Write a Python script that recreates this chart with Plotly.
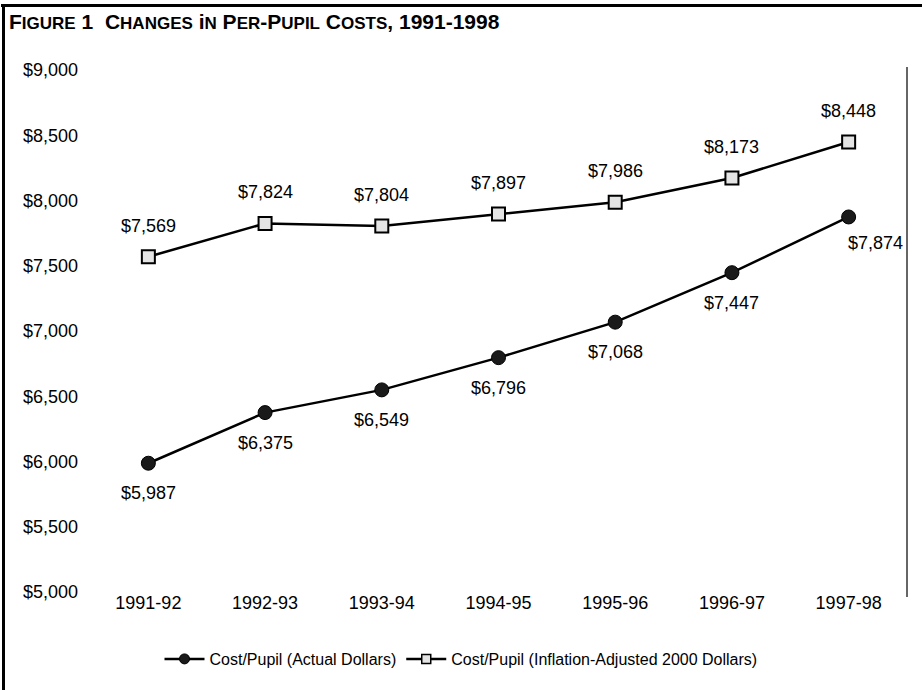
import plotly.graph_objects as go

years = ["1991-92", "1992-93", "1993-94", "1994-95", "1995-96", "1996-97", "1997-98"]
actual = [5987, 6375, 6549, 6796, 7068, 7447, 7874]
adjusted = [7569, 7824, 7804, 7897, 7986, 8173, 8448]
y_ticks = [5000, 5500, 6000, 6500, 7000, 7500, 8000, 8500, 9000]
y_tick_labels = ["$5,000", "$5,500", "$6,000", "$6,500", "$7,000", "$7,500", "$8,000", "$8,500", "$9,000"]
series_names = ["Cost/Pupil (Actual Dollars)", "Cost/Pupil (Inflation-Adjusted 2000 Dollars)"]

FONT = "Liberation Sans, Arial, sans-serif"

L, R, T, B = 90, 15, 67, 93
W, H = 922, 690
pw = W - L - R
ph = H - T - B
def px_x(p):
    return (p - L) / pw
def px_y(p):
    return (H - B - p) / ph

circle_marker = dict(symbol="circle", color="#1a1a1a", line=dict(color="black", width=1))
square_marker = dict(symbol="square", color="#e4e4e4", line=dict(color="black", width=2))

fig = go.Figure()
fig.add_trace(go.Scatter(
    x=years, y=actual, mode="lines+markers", name=series_names[0], showlegend=False,
    line=dict(color="black", width=2.5), marker=dict(size=14, **circle_marker),
))
fig.add_trace(go.Scatter(
    x=years, y=adjusted, mode="lines+markers", name=series_names[1], showlegend=False,
    line=dict(color="black", width=2.5), marker=dict(size=13, **square_marker),
))
# legend entries (smaller symbols as in the original key)
fig.add_trace(go.Scatter(
    x=[None], y=[None], mode="lines+markers", name=series_names[0],
    line=dict(color="black", width=2.5), marker=dict(size=10, **circle_marker),
))
fig.add_trace(go.Scatter(
    x=[None], y=[None], mode="lines+markers", name=series_names[1],
    line=dict(color="black", width=2.5),
    marker=dict(size=9, symbol="square", color="#e4e4e4", line=dict(color="black", width=1.5)),
))

def money(v):
    return "${:,}".format(v)

LBL = 18
annotations = []
for i, (yr, v) in enumerate(zip(years, adjusted)):
    annotations.append(dict(x=yr, y=v, text=money(v), showarrow=False, yshift=31,
                            font=dict(size=LBL, color="black", family=FONT)))
for i, (yr, v) in enumerate(zip(years, actual)):
    xs, ys = 0, -30
    if i == len(years) - 1:
        xs, ys = 27, -26
    annotations.append(dict(x=yr, y=v, text=money(v), showarrow=False, yshift=ys, xshift=xs,
                            font=dict(size=LBL, color="black", family=FONT)))

def sc(word, small=17):
    out = ""
    for j, ch in enumerate(word):
        if j == 0 or not ch.isalpha():
            out += ch
        else:
            out += "<span style='font-size:%dpx'>%s</span>" % (small, ch.upper())
    return out

title_words = ["Figure", "1", "", "Changes", "in", "Per-Pupil", "Costs,", "1991-1998"]
def sc_word(w):
    return "-".join(sc(p) for p in w.split("-"))
title_text = "<b>" + " ".join(sc_word(w) for w in title_words) + "</b>"

annotations.append(dict(xref="paper", yref="paper", x=px_x(7), y=px_y(22), xanchor="left", yanchor="middle",
                        text=title_text, showarrow=False,
                        font=dict(size=21, color="black", family=FONT)))

shapes = [
    dict(type="line", xref="paper", yref="paper", x0=px_x(1), x1=px_x(922), y0=px_y(5.5), y1=px_y(5.5),
         line=dict(color="black", width=3)),
    dict(type="line", xref="paper", yref="paper", x0=px_x(3.5), x1=px_x(3.5), y0=px_y(4), y1=px_y(690),
         line=dict(color="black", width=3)),
    dict(type="line", xref="paper", yref="paper", x0=1, x1=1, y0=0, y1=1,
         line=dict(color="#333", width=1.5)),
]

fig.update_layout(
    width=W, height=H,
    margin=dict(l=L, r=R, t=T, b=B, autoexpand=False),
    paper_bgcolor="white", plot_bgcolor="white",
    font=dict(family=FONT, size=LBL, color="black"),
    showlegend=True,
    legend=dict(orientation="h", x=px_x(461), xanchor="center", y=px_y(659), yanchor="middle",
                font=dict(size=16, family=FONT, color="black"), itemwidth=40,
                bgcolor="rgba(0,0,0,0)"),
    annotations=annotations,
    shapes=shapes,
)
fig.update_xaxes(showgrid=False, zeroline=False, showline=False, ticks="",
                 range=[-0.5, 6.5], ticklabelstandoff=-7, automargin=False,
                 tickfont=dict(size=LBL, family=FONT, color="black"))
fig.update_yaxes(showgrid=False, zeroline=False, showline=False, ticks="",
                 range=[4962, 9023], tickvals=y_ticks, ticktext=y_tick_labels,
                 ticklabelstandoff=11, automargin=False,
                 tickfont=dict(size=LBL, family=FONT, color="black"))

fig.write_html("out.html", config={"displayModeBar": False},
               post_script="document.body.style.margin='0';")
